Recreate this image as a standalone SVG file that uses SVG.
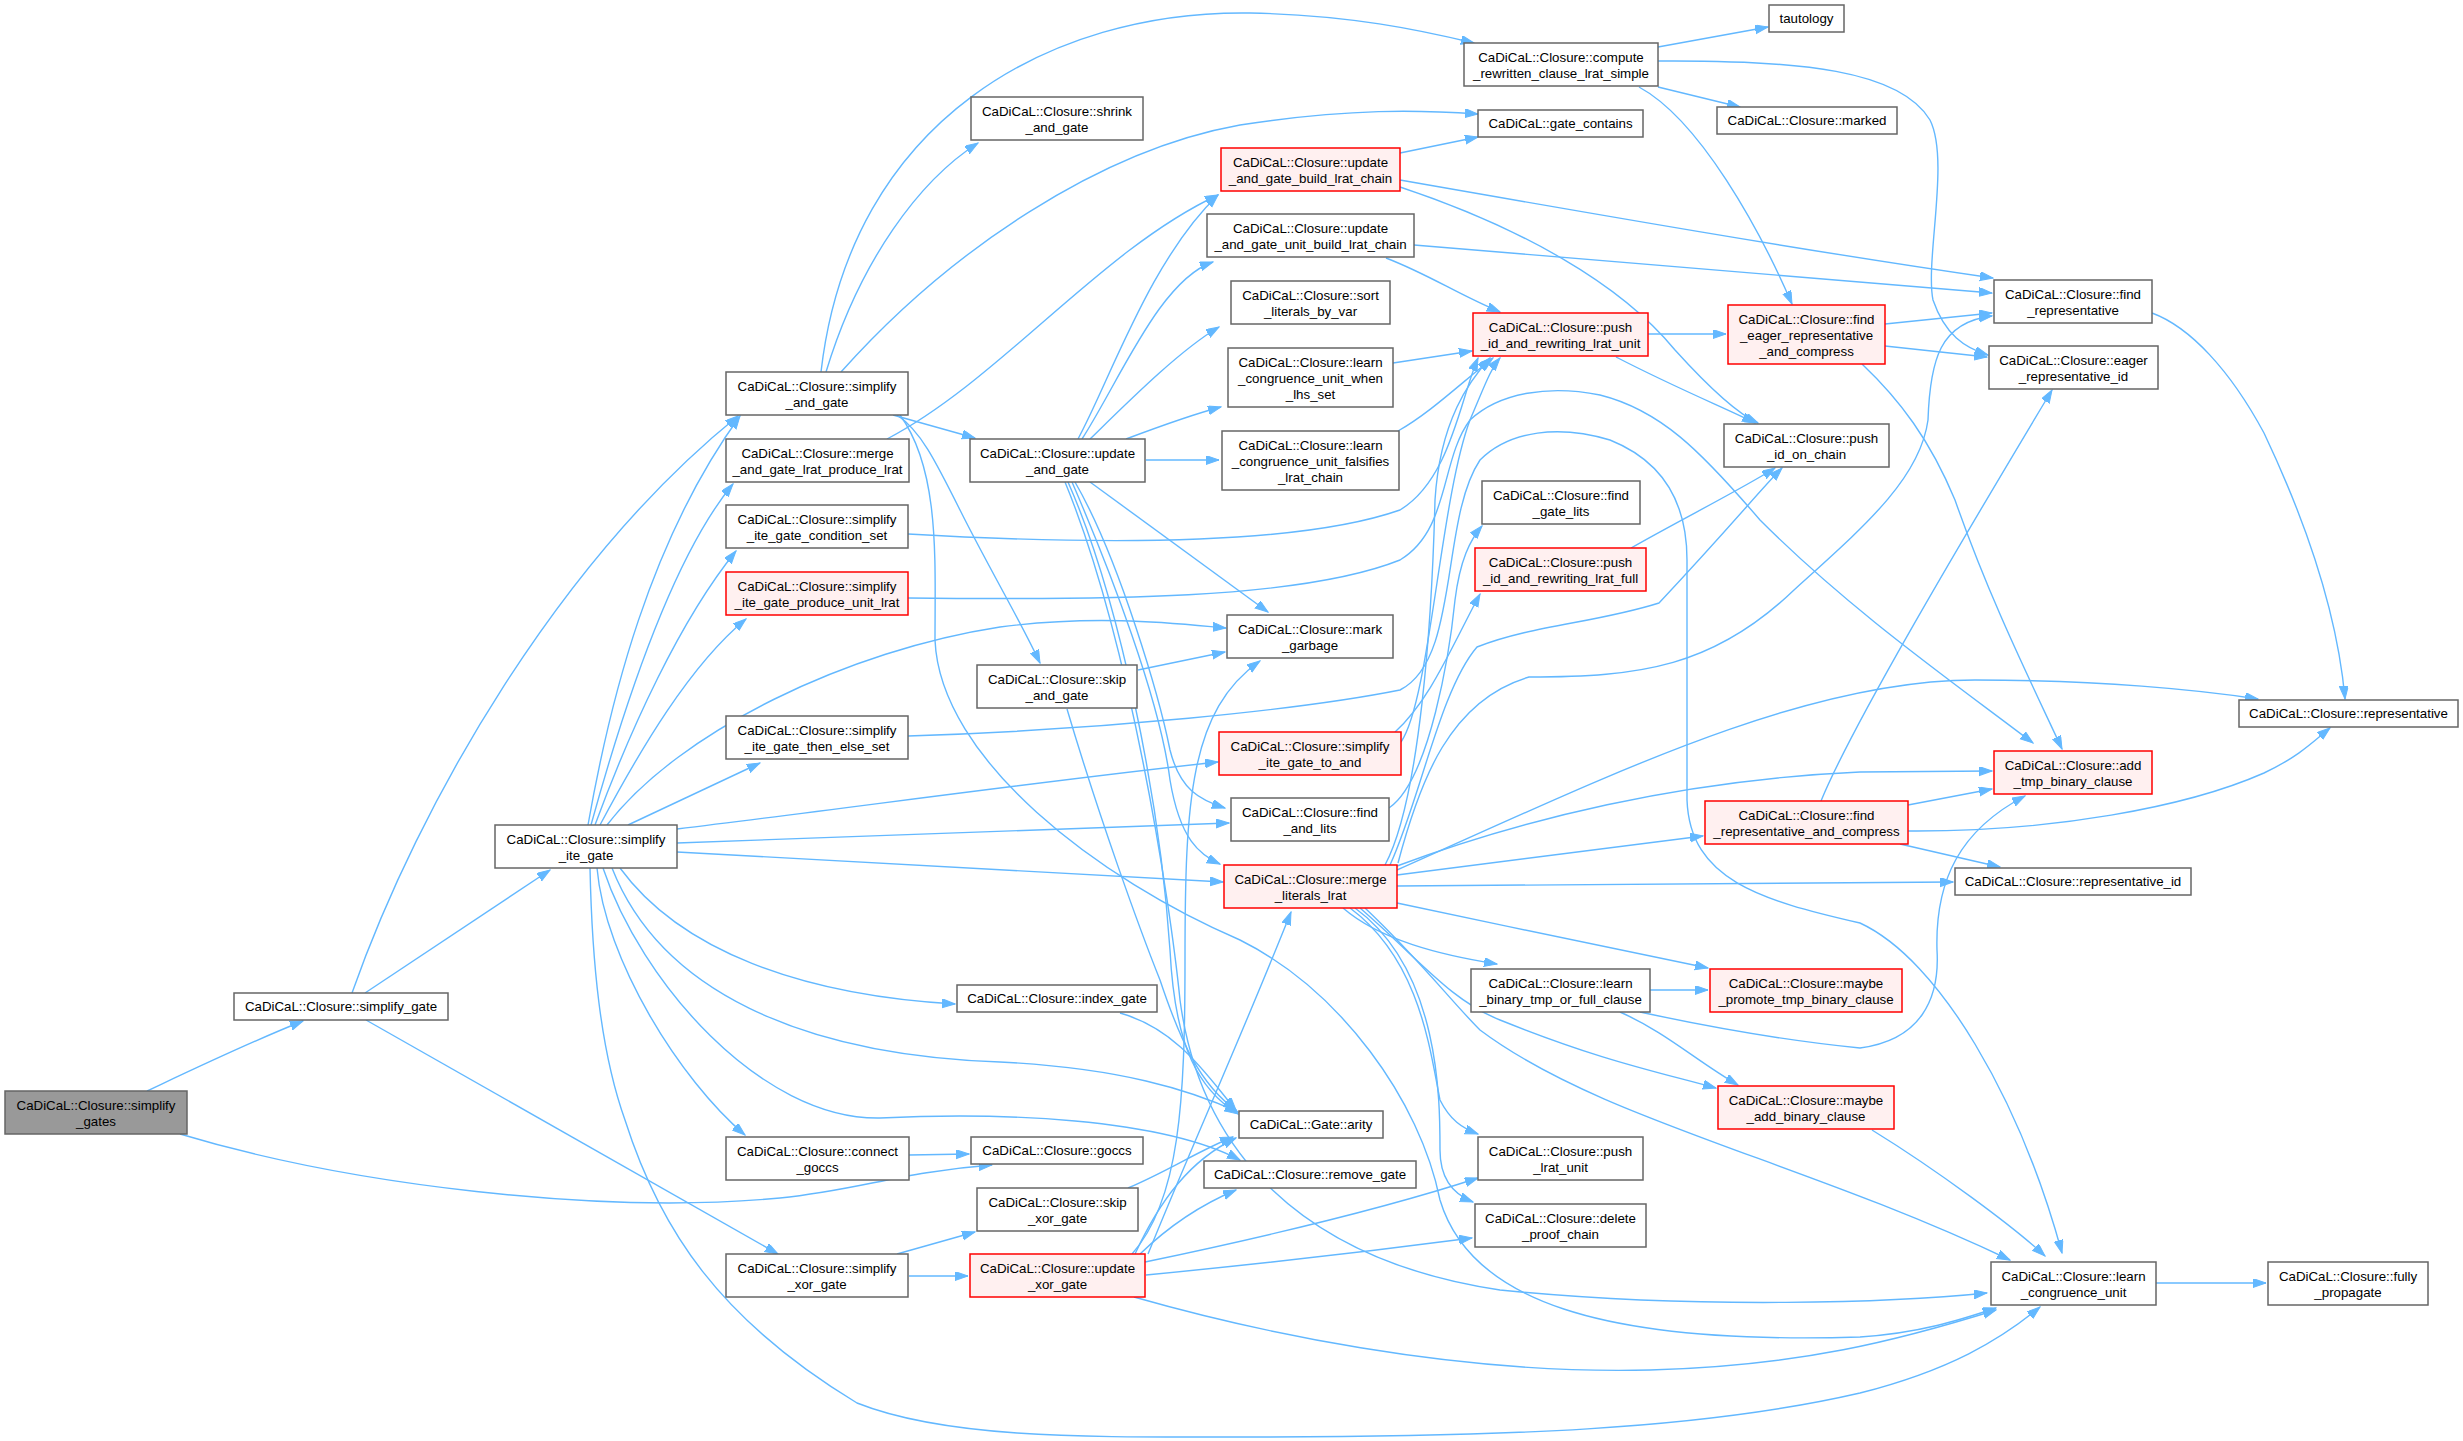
<svg xmlns="http://www.w3.org/2000/svg" width="2463" height="1441" viewBox="0 0 2463 1441">
<style>
.n rect{fill:#fff;stroke:#666;stroke-width:1.5}
.r rect{fill:#fff0f0;stroke:#f00;stroke-width:1.5}
.g rect{fill:#999;stroke:#666;stroke-width:1.5}
text{font-family:"Liberation Sans",Arial,sans-serif;font-size:13.3px;text-anchor:middle;fill:#000}
#edges path{fill:none;stroke:#63b8ff;stroke-width:1.4;marker-end:url(#ah)}
</style>
<defs>
<marker id="ah" markerUnits="userSpaceOnUse" markerWidth="14" markerHeight="10" refX="13" refY="4.5" orient="auto"><path d="M0,0 L13,4.5 L0,9 z" fill="#63b8ff" stroke="#63b8ff" stroke-width="1"/></marker>
</defs>
<rect width="2463" height="1441" fill="#fff"/>
<g id="edges">
<path d="M147,1091 C200,1066 250,1042 303,1021"/>
<path d="M180,1134 C350,1185 600,1215 780,1198 C860,1190 900,1172 992,1165"/>
<path d="M352,993 C420,800 560,560 738,416"/>
<path d="M365,993 L550,870"/>
<path d="M366,1020 L778,1254"/>
<path d="M588,825 C610,700 650,540 740,416"/>
<path d="M591,825 C620,720 670,560 733,484"/>
<path d="M595,825 C630,730 680,620 736,551"/>
<path d="M600,825 C640,750 690,665 746,619"/>
<path d="M628,825 L760,763"/>
<path d="M607,825 C680,730 850,650 1000,627 C1100,614 1180,624 1226,628"/>
<path d="M677,829 C850,808 1050,780 1218,762"/>
<path d="M677,843 L1229,823"/>
<path d="M677,852 L1223,882"/>
<path d="M620,868 C680,950 800,995 955,1004"/>
<path d="M612,868 C660,990 800,1055 1000,1062 C1120,1068 1190,1090 1238,1112"/>
<path d="M603,868 C640,980 760,1120 880,1118 C1000,1112 1160,1118 1240,1160"/>
<path d="M597,868 C605,960 680,1080 745,1135"/>
<path d="M590,868 C592,960 600,1050 625,1120 C660,1230 720,1320 857,1403 C950,1440 1100,1437 1240,1437 C1500,1437 1700,1430 1860,1393 C1950,1370 2000,1340 2040,1307"/>
<path d="M821,372 C850,120 1050,10 1250,13 C1350,15 1420,30 1474,43"/>
<path d="M826,372 C860,260 920,180 978,143"/>
<path d="M841,372 C950,250 1100,150 1240,125 C1350,108 1420,110 1478,114"/>
<path d="M893,415 L975,438"/>
<path d="M897,415 C920,430 935,460 960,510 C990,570 1020,620 1040,663"/>
<path d="M900,415 C940,470 935,560 935,640 C940,760 1100,880 1240,940 C1340,990 1420,1100 1440,1200 C1470,1300 1600,1345 1860,1337 C1920,1333 1960,1320 1996,1308"/>
<path d="M887,439 C1000,380 1100,250 1218,195"/>
<path d="M908,534 C1100,545 1300,545 1400,510 C1450,480 1460,400 1478,358"/>
<path d="M908,598 C1100,600 1300,600 1400,560 C1450,530 1440,460 1470,420 C1500,392 1550,385 1600,395 C1660,410 1700,450 1760,520 C1850,610 1950,680 2033,743"/>
<path d="M908,736 C1100,730 1300,710 1400,690 C1460,660 1440,520 1480,460 C1510,430 1560,425 1610,440 C1660,460 1687,500 1687,560 L1687,800 C1690,880 1760,900 1860,923 C1940,960 2020,1100 2062,1253"/>
<path d="M1078,439 C1110,380 1150,260 1218,195"/>
<path d="M1082,439 C1120,380 1160,280 1213,262"/>
<path d="M1090,439 C1130,400 1180,350 1219,327"/>
<path d="M1126,439 C1150,430 1190,415 1221,407"/>
<path d="M1146,460 L1219,460"/>
<path d="M1090,482 L1268,612"/>
<path d="M1075,482 C1120,560 1160,700 1170,750 C1180,790 1200,800 1225,808"/>
<path d="M1072,482 C1110,570 1160,700 1170,780 C1180,840 1200,855 1220,864"/>
<path d="M1068,482 C1120,600 1160,800 1170,950 C1175,1050 1200,1090 1238,1114"/>
<path d="M1065,482 C1130,640 1170,900 1180,1000 C1200,1150 1300,1260 1500,1290 C1700,1310 1900,1302 1987,1293"/>
<path d="M897,1254 L975,1232"/>
<path d="M909,1276 L968,1276"/>
<path d="M909,1155 L969,1154"/>
<path d="M1138,670 L1225,652"/>
<path d="M1067,709 C1100,820 1140,930 1160,980 C1180,1040 1200,1085 1236,1110"/>
<path d="M1120,1013 C1180,1030 1210,1080 1236,1110"/>
<path d="M1128,1188 C1170,1170 1200,1150 1233,1137"/>
<path d="M1135,1254 C1160,1200 1190,1160 1236,1138"/>
<path d="M1140,1254 C1170,1225 1200,1205 1236,1190"/>
<path d="M1148,1254 C1190,1150 1240,1040 1291,912"/>
<path d="M1132,1254 C1180,1200 1185,1100 1185,960 C1185,800 1190,710 1260,661"/>
<path d="M1145,1262 C1250,1240 1380,1210 1478,1178"/>
<path d="M1146,1275 C1250,1265 1380,1250 1472,1238"/>
<path d="M1134,1297 C1250,1330 1450,1375 1650,1370 C1800,1366 1900,1340 1996,1310"/>
<path d="M1400,153 L1478,137"/>
<path d="M1400,180 C1600,215 1800,250 1993,278"/>
<path d="M1400,187 C1520,227 1620,283 1675,350 C1714,393 1740,415 1758,423"/>
<path d="M1414,245 L1992,293"/>
<path d="M1386,258 C1430,275 1455,293 1500,312"/>
<path d="M1393,363 L1472,351"/>
<path d="M1398,431 C1430,413 1461,383 1493,358"/>
<path d="M1658,47 L1768,27"/>
<path d="M1658,87 L1740,107"/>
<path d="M1658,61 C1800,60 1900,70 1930,120 C1950,160 1925,260 1933,300 C1945,335 1965,348 1988,355"/>
<path d="M1639,87 C1700,120 1760,230 1792,304"/>
<path d="M1648,334 L1726,334"/>
<path d="M1616,357 C1680,390 1730,410 1755,423"/>
<path d="M1631,548 C1680,520 1740,490 1775,468"/>
<path d="M1885,324 L1992,313"/>
<path d="M1885,346 L1987,357"/>
<path d="M1862,364 C1900,400 1930,440 1955,500 C1990,600 2030,680 2062,749"/>
<path d="M1821,801 C1850,730 1950,560 2052,390"/>
<path d="M1908,805 L1992,789"/>
<path d="M1908,831 C2052,832 2187,807 2264,773 C2300,756 2315,740 2330,728"/>
<path d="M1900,844 L2000,867"/>
<path d="M2152,313 C2190,327 2230,370 2264,433 C2310,530 2338,620 2345,699"/>
<path d="M1650,990 L1708,990"/>
<path d="M1620,1012 C1667,1033 1695,1060 1738,1085"/>
<path d="M1640,1012 C1700,1025 1780,1040 1860,1048 C1920,1040 1940,1000 1937,950 C1935,880 1960,830 2025,796"/>
<path d="M1872,1130 C1937,1170 2014,1227 2045,1256"/>
<path d="M2156,1283 L2266,1283"/>
<path d="M1385,865 C1420,800 1432,620 1435,500 C1440,420 1470,380 1490,358"/>
<path d="M1398,863 C1420,780 1450,700 1529,677 C1640,677 1714,667 1794,590 C1860,530 1920,480 1928,420 C1930,360 1940,322 1992,316"/>
<path d="M1397,870 C1600,780 1800,680 1975,680 C2100,680 2200,690 2258,699"/>
<path d="M1397,866 C1520,820 1680,780 1860,772 L1992,771"/>
<path d="M1397,875 L1703,836"/>
<path d="M1397,886 L1953,882"/>
<path d="M1390,865 C1420,800 1440,690 1477,647 C1533,625 1596,623 1659,603 C1734,523 1760,490 1782,468"/>
<path d="M1343,908 C1380,940 1440,955 1497,964"/>
<path d="M1397,903 C1500,925 1620,950 1708,968"/>
<path d="M1360,908 C1420,960 1450,1000 1500,1020 C1600,1060 1650,1070 1716,1088"/>
<path d="M1350,908 C1420,960 1430,1050 1440,1100 C1450,1120 1462,1128 1478,1134"/>
<path d="M1355,908 C1440,970 1440,1100 1440,1150 C1440,1180 1455,1195 1473,1202"/>
<path d="M1365,908 C1420,960 1450,1000 1480,1030 C1600,1120 1800,1160 2010,1260"/>
<path d="M1401,742 C1430,700 1440,500 1470,420 C1485,385 1490,370 1500,358"/>
<path d="M1395,732 C1430,700 1450,650 1480,594"/>
<path d="M1389,808 C1430,780 1450,650 1455,600 C1460,560 1470,540 1482,526"/>
</g>
<g id="simplify_gates" class="g"><rect x="5" y="1091" width="182" height="43"/><text x="96" y="1109.5">CaDiCaL::Closure::simplify</text><text x="96" y="1125.5">_gates</text></g>
<g id="simplify_gate" class="n"><rect x="234" y="993" width="214" height="27"/><text x="341" y="1011">CaDiCaL::Closure::simplify_gate</text></g>
<g id="simplify_ite_gate" class="n"><rect x="495" y="825" width="182" height="43"/><text x="586" y="843.5">CaDiCaL::Closure::simplify</text><text x="586" y="859.5">_ite_gate</text></g>
<g id="simplify_and_gate" class="n"><rect x="726" y="372" width="182" height="43"/><text x="817" y="390.5">CaDiCaL::Closure::simplify</text><text x="817" y="406.5">_and_gate</text></g>
<g id="merge_and_gate_lrat_produce_lrat" class="n"><rect x="726" y="439" width="183" height="43"/><text x="817.5" y="457.5">CaDiCaL::Closure::merge</text><text x="817.5" y="473.5">_and_gate_lrat_produce_lrat</text></g>
<g id="simplify_ite_gate_condition_set" class="n"><rect x="726" y="505" width="182" height="43"/><text x="817" y="523.5">CaDiCaL::Closure::simplify</text><text x="817" y="539.5">_ite_gate_condition_set</text></g>
<g id="simplify_ite_gate_produce_unit_lrat" class="r"><rect x="726" y="572" width="182" height="43"/><text x="817" y="590.5">CaDiCaL::Closure::simplify</text><text x="817" y="606.5">_ite_gate_produce_unit_lrat</text></g>
<g id="simplify_ite_gate_then_else_set" class="n"><rect x="726" y="716" width="182" height="43"/><text x="817" y="734.5">CaDiCaL::Closure::simplify</text><text x="817" y="750.5">_ite_gate_then_else_set</text></g>
<g id="connect_goccs" class="n"><rect x="726" y="1137" width="183" height="43"/><text x="817.5" y="1155.5">CaDiCaL::Closure::connect</text><text x="817.5" y="1171.5">_goccs</text></g>
<g id="simplify_xor_gate" class="n"><rect x="726" y="1254" width="182" height="43"/><text x="817" y="1272.5">CaDiCaL::Closure::simplify</text><text x="817" y="1288.5">_xor_gate</text></g>
<g id="shrink_and_gate" class="n"><rect x="971" y="97" width="172" height="43"/><text x="1057" y="115.5">CaDiCaL::Closure::shrink</text><text x="1057" y="131.5">_and_gate</text></g>
<g id="update_and_gate" class="n"><rect x="970" y="439" width="175" height="43"/><text x="1057.5" y="457.5">CaDiCaL::Closure::update</text><text x="1057.5" y="473.5">_and_gate</text></g>
<g id="skip_and_gate" class="n"><rect x="977" y="665" width="160" height="43"/><text x="1057" y="683.5">CaDiCaL::Closure::skip</text><text x="1057" y="699.5">_and_gate</text></g>
<g id="index_gate" class="n"><rect x="957" y="985" width="200" height="27"/><text x="1057" y="1003">CaDiCaL::Closure::index_gate</text></g>
<g id="goccs" class="n"><rect x="971" y="1137" width="172" height="27"/><text x="1057" y="1155">CaDiCaL::Closure::goccs</text></g>
<g id="skip_xor_gate" class="n"><rect x="977" y="1188" width="161" height="43"/><text x="1057.5" y="1206.5">CaDiCaL::Closure::skip</text><text x="1057.5" y="1222.5">_xor_gate</text></g>
<g id="update_xor_gate" class="r"><rect x="970" y="1254" width="175" height="43"/><text x="1057.5" y="1272.5">CaDiCaL::Closure::update</text><text x="1057.5" y="1288.5">_xor_gate</text></g>
<g id="update_and_gate_build_lrat_chain" class="r"><rect x="1221" y="148" width="179" height="43"/><text x="1310.5" y="166.5">CaDiCaL::Closure::update</text><text x="1310.5" y="182.5">_and_gate_build_lrat_chain</text></g>
<g id="update_and_gate_unit_build_lrat_chain" class="n"><rect x="1207" y="214" width="207" height="43"/><text x="1310.5" y="232.5">CaDiCaL::Closure::update</text><text x="1310.5" y="248.5">_and_gate_unit_build_lrat_chain</text></g>
<g id="sort_literals_by_var" class="n"><rect x="1231" y="281" width="159" height="43"/><text x="1310.5" y="299.5">CaDiCaL::Closure::sort</text><text x="1310.5" y="315.5">_literals_by_var</text></g>
<g id="learn_congruence_unit_when_lhs_set" class="n"><rect x="1228" y="348" width="165" height="59"/><text x="1310.5" y="366.5">CaDiCaL::Closure::learn</text><text x="1310.5" y="382.5">_congruence_unit_when</text><text x="1310.5" y="398.5">_lhs_set</text></g>
<g id="learn_congruence_unit_falsifies_lrat_chain" class="n"><rect x="1222" y="431" width="177" height="59"/><text x="1310.5" y="449.5">CaDiCaL::Closure::learn</text><text x="1310.5" y="465.5">_congruence_unit_falsifies</text><text x="1310.5" y="481.5">_lrat_chain</text></g>
<g id="mark_garbage" class="n"><rect x="1227" y="615" width="166" height="43"/><text x="1310" y="633.5">CaDiCaL::Closure::mark</text><text x="1310" y="649.5">_garbage</text></g>
<g id="simplify_ite_gate_to_and" class="r"><rect x="1219" y="732" width="182" height="43"/><text x="1310" y="750.5">CaDiCaL::Closure::simplify</text><text x="1310" y="766.5">_ite_gate_to_and</text></g>
<g id="find_and_lits" class="n"><rect x="1231" y="798" width="158" height="43"/><text x="1310" y="816.5">CaDiCaL::Closure::find</text><text x="1310" y="832.5">_and_lits</text></g>
<g id="merge_literals_lrat" class="r"><rect x="1224" y="865" width="173" height="43"/><text x="1310.5" y="883.5">CaDiCaL::Closure::merge</text><text x="1310.5" y="899.5">_literals_lrat</text></g>
<g id="gate_arity" class="n"><rect x="1239" y="1111" width="144" height="27"/><text x="1311" y="1129">CaDiCaL::Gate::arity</text></g>
<g id="remove_gate" class="n"><rect x="1204" y="1161" width="212" height="27"/><text x="1310" y="1179">CaDiCaL::Closure::remove_gate</text></g>
<g id="compute_rewritten_clause_lrat_simple" class="n"><rect x="1464" y="43" width="194" height="43"/><text x="1561" y="61.5">CaDiCaL::Closure::compute</text><text x="1561" y="77.5">_rewritten_clause_lrat_simple</text></g>
<g id="gate_contains" class="n"><rect x="1478" y="110" width="165" height="27"/><text x="1560.5" y="128">CaDiCaL::gate_contains</text></g>
<g id="push_id_and_rewriting_lrat_unit" class="r"><rect x="1473" y="313" width="175" height="43"/><text x="1560.5" y="331.5">CaDiCaL::Closure::push</text><text x="1560.5" y="347.5">_id_and_rewriting_lrat_unit</text></g>
<g id="find_gate_lits" class="n"><rect x="1482" y="481" width="158" height="43"/><text x="1561" y="499.5">CaDiCaL::Closure::find</text><text x="1561" y="515.5">_gate_lits</text></g>
<g id="push_id_and_rewriting_lrat_full" class="r"><rect x="1475" y="548" width="171" height="43"/><text x="1560.5" y="566.5">CaDiCaL::Closure::push</text><text x="1560.5" y="582.5">_id_and_rewriting_lrat_full</text></g>
<g id="learn_binary_tmp_or_full_clause" class="n"><rect x="1471" y="969" width="179" height="43"/><text x="1560.5" y="987.5">CaDiCaL::Closure::learn</text><text x="1560.5" y="1003.5">_binary_tmp_or_full_clause</text></g>
<g id="push_lrat_unit" class="n"><rect x="1478" y="1137" width="165" height="43"/><text x="1560.5" y="1155.5">CaDiCaL::Closure::push</text><text x="1560.5" y="1171.5">_lrat_unit</text></g>
<g id="delete_proof_chain" class="n"><rect x="1475" y="1204" width="171" height="43"/><text x="1560.5" y="1222.5">CaDiCaL::Closure::delete</text><text x="1560.5" y="1238.5">_proof_chain</text></g>
<g id="tautology" class="n"><rect x="1769" y="5" width="75" height="27"/><text x="1806.5" y="23">tautology</text></g>
<g id="marked" class="n"><rect x="1717" y="107" width="180" height="27"/><text x="1807" y="125">CaDiCaL::Closure::marked</text></g>
<g id="find_eager_representative_and_compress" class="r"><rect x="1728" y="305" width="157" height="59"/><text x="1806.5" y="323.5">CaDiCaL::Closure::find</text><text x="1806.5" y="339.5">_eager_representative</text><text x="1806.5" y="355.5">_and_compress</text></g>
<g id="push_id_on_chain" class="n"><rect x="1724" y="424" width="165" height="43"/><text x="1806.5" y="442.5">CaDiCaL::Closure::push</text><text x="1806.5" y="458.5">_id_on_chain</text></g>
<g id="find_representative_and_compress" class="r"><rect x="1705" y="801" width="203" height="43"/><text x="1806.5" y="819.5">CaDiCaL::Closure::find</text><text x="1806.5" y="835.5">_representative_and_compress</text></g>
<g id="maybe_promote_tmp_binary_clause" class="r"><rect x="1710" y="969" width="192" height="43"/><text x="1806" y="987.5">CaDiCaL::Closure::maybe</text><text x="1806" y="1003.5">_promote_tmp_binary_clause</text></g>
<g id="maybe_add_binary_clause" class="r"><rect x="1718" y="1086" width="176" height="43"/><text x="1806" y="1104.5">CaDiCaL::Closure::maybe</text><text x="1806" y="1120.5">_add_binary_clause</text></g>
<g id="find_representative" class="n"><rect x="1994" y="280" width="158" height="43"/><text x="2073" y="298.5">CaDiCaL::Closure::find</text><text x="2073" y="314.5">_representative</text></g>
<g id="eager_representative_id" class="n"><rect x="1989" y="346" width="169" height="43"/><text x="2073.5" y="364.5">CaDiCaL::Closure::eager</text><text x="2073.5" y="380.5">_representative_id</text></g>
<g id="add_tmp_binary_clause" class="r"><rect x="1994" y="751" width="158" height="43"/><text x="2073" y="769.5">CaDiCaL::Closure::add</text><text x="2073" y="785.5">_tmp_binary_clause</text></g>
<g id="representative_id" class="n"><rect x="1955" y="868" width="236" height="27"/><text x="2073" y="886">CaDiCaL::Closure::representative_id</text></g>
<g id="learn_congruence_unit" class="n"><rect x="1991" y="1262" width="165" height="43"/><text x="2073.5" y="1280.5">CaDiCaL::Closure::learn</text><text x="2073.5" y="1296.5">_congruence_unit</text></g>
<g id="representative" class="n"><rect x="2239" y="700" width="219" height="27"/><text x="2348.5" y="718">CaDiCaL::Closure::representative</text></g>
<g id="fully_propagate" class="n"><rect x="2268" y="1262" width="160" height="43"/><text x="2348" y="1280.5">CaDiCaL::Closure::fully</text><text x="2348" y="1296.5">_propagate</text></g>
</svg>
